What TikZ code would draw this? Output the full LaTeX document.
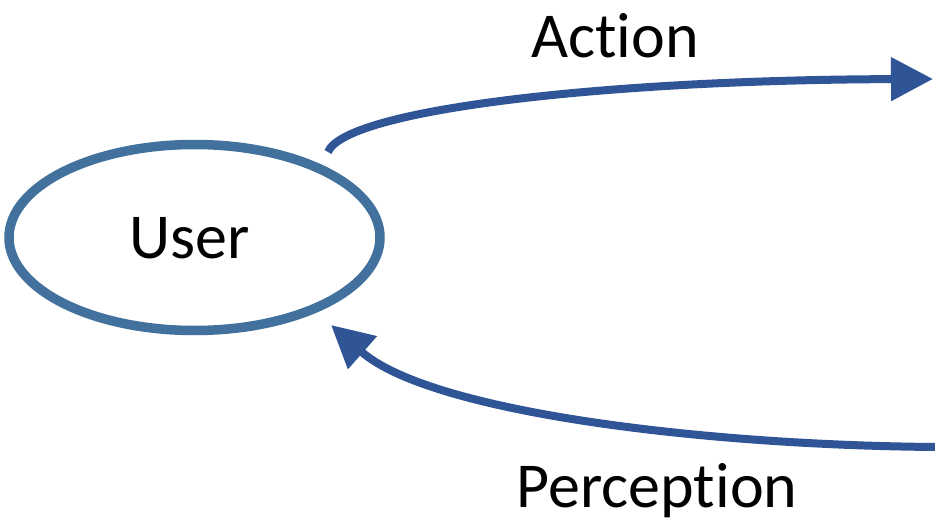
\documentclass[tikz,border=0pt]{standalone}
\usepackage{fontspec}
\setmainfont{Carlito}[Ligatures=NoCommon]
\usetikzlibrary{arrows.meta,shapes.geometric}
\definecolor{ellc}{HTML}{41719C}
\definecolor{arrc}{HTML}{2F5597}
\begin{document}
\begin{tikzpicture}[x=1pt,y=-1pt,
  lbl/.style={font=\fontsize{64}{72}\selectfont, inner sep=0pt},
  flow/.style={draw=arrc, line width=8pt, -{Triangle[length=42pt,width=42pt]}}]
\useasboundingbox (0,0) rectangle (935,527);
\node[draw=ellc, line width=9.5pt, ellipse, minimum width=371pt, minimum height=186pt, inner sep=0pt] (user) at (194.5,237.5) {};
\node[lbl] (ulabel) at (190,238) {User};
\node[lbl] (action) at (615,36) {Action};
\node[lbl] (perc) at (657,491) {Perception};
\coordinate (a0) at (328,152);
\coordinate (a1) at (933,79);
\coordinate (p0) at (935,447);
\coordinate (p1) at (331,325);
\draw[flow] (a0) .. controls (345,110) and (600,80) .. (a1);
\draw[flow] (p0) .. controls (700,445) and (430,412) .. (p1);
\end{tikzpicture}
\end{document}
